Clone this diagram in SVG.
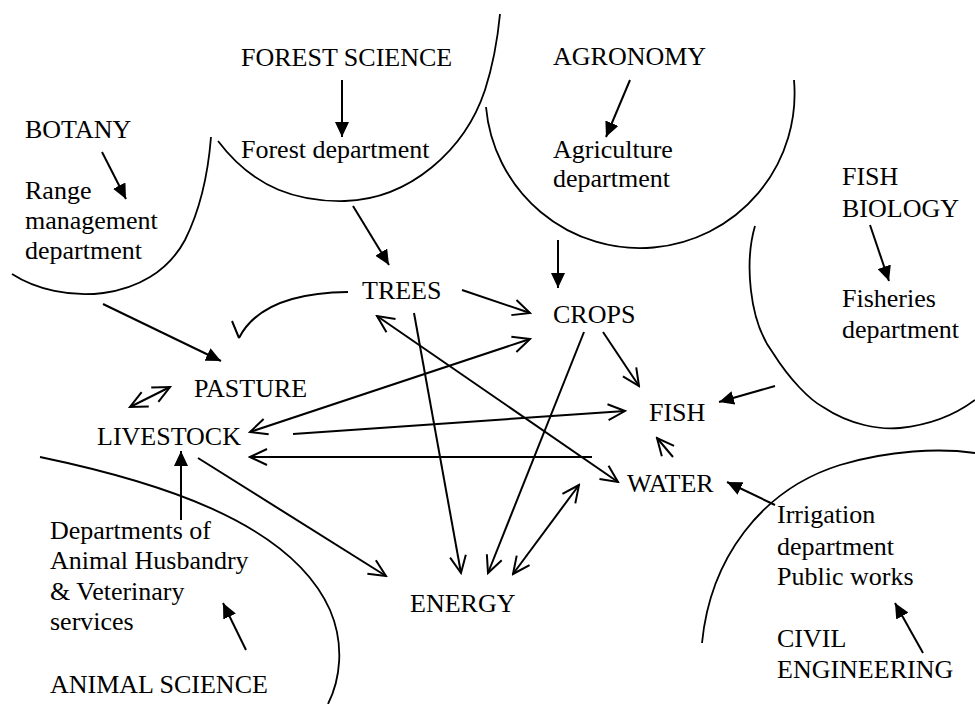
<svg xmlns="http://www.w3.org/2000/svg" width="975" height="704" viewBox="0 0 975 704">
  <style>
    text { font-family: "Liberation Serif", "Times New Roman", serif; font-size: 26px; fill: #000; }
    .arc { fill: none; stroke: #000; stroke-width: 1.8; }
    .ln { fill: none; stroke: #000; stroke-width: 2; }
    .solid { marker-end: url(#solid); }
    .open { marker-end: url(#open); }
    .both { marker-start: url(#open); marker-end: url(#open); }
  </style>
  <defs>
    <marker id="solid" markerUnits="userSpaceOnUse" viewBox="0 0 16 14" refX="15" refY="7" markerWidth="16" markerHeight="14" orient="auto">
      <path d="M0,0 L15,7 L0,14 z" fill="#000"/>
    </marker>
    <marker id="open" markerUnits="userSpaceOnUse" viewBox="-20 -10 22 20" refX="0" refY="0" markerWidth="22" markerHeight="20" orient="auto-start-reverse">
      <path d="M-17,-8 L0,0 L-17,8" fill="none" stroke="#000" stroke-width="2"/>
    </marker>
  </defs>
  <rect width="975" height="704" fill="#fff"/>

  <!-- discipline domains with their departments -->
  <g id="botany">
    <path class="arc" d="M12,274 C60,305 150,305 185,240 C200,210 208,175 211,137"/>
    <text x="25" y="138">BOTANY</text>
    <text x="25" y="199">Range</text>
    <text x="25" y="229">management</text>
    <text x="25" y="259">department</text>
    <path class="ln solid" d="M102,152 L126,199"/>
  </g>

  <g id="forest-science">
    <path class="arc" d="M218,141 C255,190 300,202 345,201 C410,199 465,150 485,90 C494,62 498,35 500,14"/>
    <text x="241" y="66">FOREST SCIENCE</text>
    <text x="241" y="158">Forest department</text>
    <path class="ln solid" d="M342,80 L342,137"/>
  </g>

  <g id="agronomy">
    <path class="arc" d="M486,107 A154,154 0 1 0 794,80"/>
    <text x="553" y="65">AGRONOMY</text>
    <text x="553" y="158">Agriculture</text>
    <text x="553" y="187">department</text>
    <path class="ln solid" d="M630,80 L606,137"/>
  </g>

  <g id="fish-biology">
    <path class="arc" d="M755,226 C745,260 748,320 773,353 C790,380 810,400 823,407 C850,425 880,430 900,428 C930,425 955,415 975,400"/>
    <text x="842" y="185">FISH</text>
    <text x="842" y="217">BIOLOGY</text>
    <text x="842" y="307">Fisheries</text>
    <text x="842" y="338">department</text>
    <path class="ln solid" d="M870,225 L889,281"/>
  </g>

  <g id="animal-science">
    <path class="arc" d="M40,457 C150,480 290,520 330,610 C345,645 340,680 328,704"/>
    <text x="50" y="539">Departments of</text>
    <text x="50" y="569">Animal Husbandry</text>
    <text x="50" y="600">&amp; Veterinary</text>
    <text x="50" y="630">services</text>
    <text x="50" y="693">ANIMAL SCIENCE</text>
    <path class="ln solid" d="M246,650 L223,603"/>
  </g>

  <g id="civil-engineering">
    <path class="arc" d="M702,643 C710,560 760,490 840,465 C890,450 940,448 975,453"/>
    <text x="777" y="523">Irrigation</text>
    <text x="777" y="555">department</text>
    <text x="777" y="585">Public works</text>
    <text x="777" y="647">CIVIL</text>
    <text x="777" y="678">ENGINEERING</text>
    <path class="ln solid" d="M923,653 L895,603"/>
  </g>

  <!-- resources -->
  <g id="trees"><text x="362" y="299">TREES</text></g>
  <g id="crops"><text x="553" y="323">CROPS</text></g>
  <g id="pasture"><text x="194" y="397">PASTURE</text></g>
  <g id="livestock"><text x="97" y="445">LIVESTOCK</text></g>
  <g id="fish"><text x="649" y="421">FISH</text></g>
  <g id="water"><text x="627" y="492">WATER</text></g>
  <g id="energy"><text x="410" y="612">ENERGY</text></g>

  <!-- links between departments and resources, and among resources -->
  <g id="connectors">
    <path class="ln solid" d="M353,206 L389,265"/>
    <path class="ln solid" d="M558,240 L558,288"/>
    <path class="ln solid" d="M103,304 L221,361"/>
    <path class="ln solid" d="M775,386 L719,402"/>
    <path class="ln solid" d="M775,505 L727,482"/>
    <path class="ln solid" d="M181,520 L181,451"/>

    <path class="ln" d="M348,292 Q262,293 239,338 M232,321 L239,338"/>
    <path class="ln both" d="M130,407 L170,387"/>
    <path class="ln both" d="M250,432 L530,339"/>
    <path class="ln open" d="M293,434 L625,411"/>
    <path class="ln open" d="M592,457 L250,457"/>
    <path class="ln open" d="M198,458 L386,576"/>
    <path class="ln open" d="M462,290 L530,313"/>
    <path class="ln open" d="M414,313 L461,573"/>
    <path class="ln both" d="M377,316 L618,482"/>
    <path class="ln open" d="M584,332 L488,573"/>
    <path class="ln open" d="M603,332 L639,386"/>
    <path class="ln open" d="M673,457 L657,438"/>
    <path class="ln both" d="M513,574 L579,485"/>
  </g>
</svg>
